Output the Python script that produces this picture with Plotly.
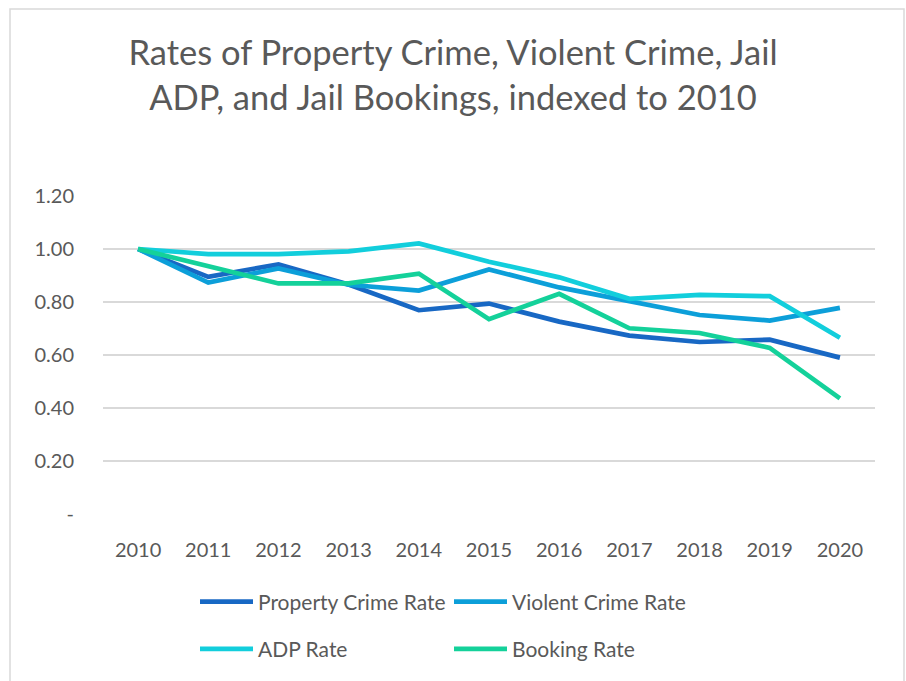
import plotly.graph_objects as go

years = ["2010", "2011", "2012", "2013", "2014", "2015", "2016", "2017", "2018", "2019", "2020"]
property_rate = [1.00, 0.895, 0.942, 0.866, 0.769, 0.794, 0.726, 0.673, 0.649, 0.658, 0.590]
violent_rate = [1.00, 0.873, 0.927, 0.865, 0.843, 0.923, 0.855, 0.804, 0.751, 0.730, 0.778]
adp_rate = [1.00, 0.981, 0.981, 0.991, 1.021, 0.952, 0.893, 0.812, 0.827, 0.822, 0.665]
booking_rate = [1.00, 0.937, 0.870, 0.870, 0.907, 0.735, 0.831, 0.701, 0.683, 0.627, 0.436]
y_ticks = [0, 0.2, 0.4, 0.6, 0.8, 1.0, 1.2]
y_tick_labels = ["-", "0.20", "0.40", "0.60", "0.80", "1.00", "1.20"]

FONT = "Lato"
GRAY = "#595959"

series = [
    ("Property Crime Rate", property_rate, "#1868C4", "legend", "g1"),
    ("Violent Crime Rate", violent_rate, "#0C9FD9", "legend2", "g2"),
    ("ADP Rate", adp_rate, "#12CEDC", "legend", "g3"),
    ("Booking Rate", booking_rate, "#14D19A", "legend2", "g4"),
]

fig = go.Figure()
for name, vals, color, leg, grp in series:
    fig.add_trace(go.Scatter(
        x=years, y=vals, name=name, mode="lines",
        line=dict(color=color, width=4.7),
        legend=leg, legendgroup=grp,
    ))

legend_common = dict(
    orientation="v", xanchor="left", yanchor="top",
    font=dict(family=FONT, size=21, color=GRAY),
    bgcolor="rgba(0,0,0,0)", tracegroupgap=17, itemwidth=53,
    itemclick=False, itemdoubleclick=False,
)

fig.update_layout(
    width=906, height=681,
    margin=dict(l=103, r=31, t=196, b=160),
    paper_bgcolor="white", plot_bgcolor="white",
    title=dict(
        text="Rates of Property Crime, Violent Crime, Jail<br>ADP, and Jail Bookings, indexed to 2010",
        font=dict(family=FONT, size=34.5, color=GRAY),
        x=0.5, xanchor="center", y=(681 - 65) / 681, yanchor="middle",
    ),
    legend=dict(x=(195 - 103) / 772, y=(521 - 590) / 325, **legend_common),
    legend2=dict(x=(449 - 103) / 772, y=(521 - 590) / 325, **legend_common),
    xaxis=dict(
        type="category", range=[-0.5, 10.5], showgrid=False, showline=False,
        ticks="", tickfont=dict(family=FONT, size=20, color=GRAY),
        ticklabelstandoff=22, zeroline=False,
    ),
    yaxis=dict(
        range=[0, 1.2], tickvals=y_ticks, ticktext=y_tick_labels,
        showgrid=True, gridcolor="#d9d9d9", gridwidth=1.5,
        zeroline=False, showline=False, ticks="",
        tickfont=dict(family=FONT, size=20, color=GRAY),
        ticklabelstandoff=28,
    ),
    shapes=[dict(
        type="rect", xref="paper", yref="paper", layer="below",
        x0=(10 - 103) / 772, x1=(904 - 103) / 772,
        y0=(521 - 700) / 325, y1=(521 - 5) / 325,
        line=dict(color="#d9d9d9", width=1.5), fillcolor="rgba(0,0,0,0)",
    )],
)

fig.write_html(
    "out.html",
    config={"displayModeBar": False},
    post_script="document.body.style.margin='0px';",
)
